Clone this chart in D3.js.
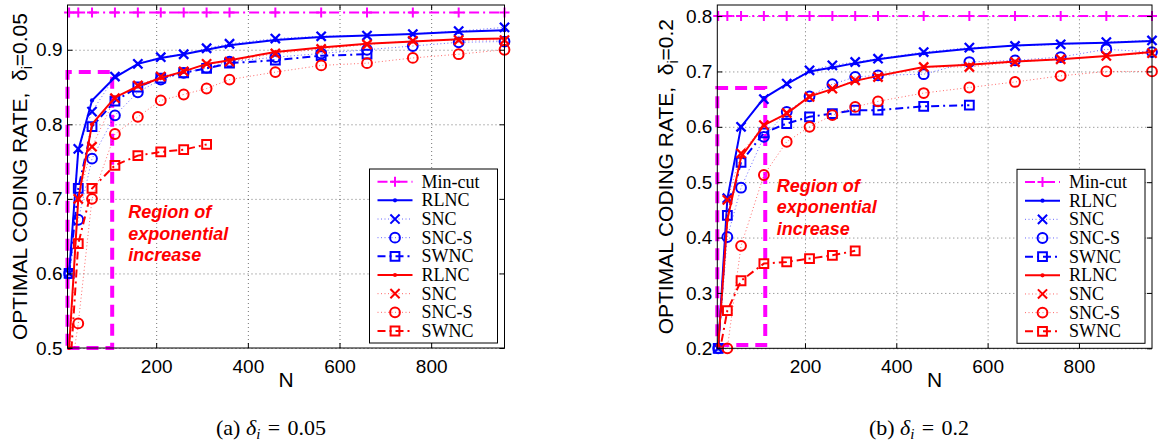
<!DOCTYPE html>
<html>
<head>
<meta charset="utf-8">
<script src="https://cdn.jsdelivr.net/npm/d3@7"></script>
<style>
body { margin: 0; background: #fff; }
svg { display: block; }
.tick text { font-family: "Liberation Sans", Arial, sans-serif; font-size: 19px; fill: #000; }
.grid line { stroke: #000; stroke-opacity: 0.55; stroke-dasharray: 1,3; }
.grid path { display: none; }
.edge path { display: none; }
.edge line { stroke: #000; }
.axislabel { font-family: "Liberation Sans", Arial, sans-serif; font-size: 21px; }
.legend text { font-family: "Liberation Serif", "Times New Roman", serif; font-size: 18px; }
.caption { font-family: "Liberation Serif", "Times New Roman", serif; font-size: 22px; }
.region { font-family: "Liberation Sans", Arial, sans-serif; font-size: 18px; font-weight: bold; font-style: italic; fill: #ff0000; }
</style>
</head>
<body>
<script>

// x values (N) shared by both plots
var nValues = [10, 30, 60, 110, 160, 210, 260, 310, 360, 460, 560, 660, 760, 860, 960];

var legendLabels = ["Min-cut", "RLNC", "SNC", "SNC-S", "SWNC", "RLNC", "SNC", "SNC-S", "SWNC"];

// (a) delta_i = 0.05
var minCutA    = [0.95, 0.95, 0.95, 0.95, 0.95, 0.95, 0.95, 0.95, 0.95, 0.95, 0.95, 0.95, 0.95, 0.95, 0.95];
var rlncBlueA  = [0.600, 0.765, 0.832, 0.863, 0.881, 0.889, 0.894, 0.900, 0.906, 0.913, 0.917, 0.919, 0.921, 0.924, 0.926];
var sncBlueA   = [0.600, 0.767, 0.817, 0.864, 0.881, 0.890, 0.894, 0.902, 0.908, 0.915, 0.918, 0.919, 0.921, 0.925, 0.930];
var sncsBlueA  = [0.600, 0.672, 0.754, 0.812, 0.843, 0.860, 0.869, 0.876, 0.884, 0.890, 0.895, 0.900, 0.905, 0.910, 0.911];
var swncBlueA  = [0.600, 0.714, 0.797, 0.831, 0.850, 0.862, 0.869, 0.875, 0.882, 0.886, 0.892, 0.894];
var rlncRedA   = [0.500, 0.700, 0.800, 0.836, 0.851, 0.862, 0.871, 0.881, 0.886, 0.897, 0.903, 0.908, 0.911, 0.914, 0.915];
var sncRedA    = [0.480, 0.700, 0.770, 0.835, 0.852, 0.864, 0.871, 0.881, 0.884, 0.895, 0.901, 0.907, 0.912, 0.913, 0.913];
var sncsRedA   = [0.450, 0.533, 0.700, 0.787, 0.810, 0.832, 0.840, 0.848, 0.860, 0.870, 0.879, 0.882, 0.889, 0.894, 0.900];
var swncRedA   = [0.450, 0.640, 0.714, 0.745, 0.758, 0.763, 0.766, 0.773];
var regionA    = { nMax: 104, low: 0.5, high: 0.87 };

// (b) delta_i = 0.2
var minCutB    = [0.8, 0.8, 0.8, 0.8, 0.8, 0.8, 0.8, 0.8, 0.8, 0.8, 0.8, 0.8, 0.8, 0.8, 0.8];
var rlncBlueB  = [0.200, 0.470, 0.600, 0.652, 0.677, 0.700, 0.707, 0.715, 0.722, 0.733, 0.741, 0.747, 0.750, 0.752, 0.755];
var sncBlueB   = [0.200, 0.471, 0.600, 0.650, 0.678, 0.702, 0.711, 0.717, 0.723, 0.735, 0.743, 0.746, 0.749, 0.753, 0.756];
var sncsBlueB  = [0.200, 0.401, 0.490, 0.582, 0.627, 0.655, 0.677, 0.690, 0.693, 0.695, 0.717, 0.720, 0.726, 0.740, 0.735];
var swncBlueB  = [0.200, 0.440, 0.536, 0.589, 0.606, 0.618, 0.624, 0.630, 0.630, 0.637, 0.639];
var rlncRedB   = [0.205, 0.432, 0.545, 0.603, 0.624, 0.655, 0.668, 0.683, 0.692, 0.708, 0.712, 0.718, 0.722, 0.728, 0.735];
var sncRedB    = [0.190, 0.468, 0.552, 0.603, 0.625, 0.654, 0.669, 0.684, 0.690, 0.708, 0.708, 0.717, 0.722, 0.728, 0.733];
var sncsRedB   = [0.180, 0.200, 0.385, 0.513, 0.573, 0.600, 0.621, 0.636, 0.646, 0.661, 0.671, 0.681, 0.692, 0.700, 0.700];
var swncRedB   = [0.180, 0.268, 0.322, 0.353, 0.356, 0.362, 0.368, 0.376];
var regionB    = { nMax: 113, low: 0.206, high: 0.67 };

var xTicks = [200, 400, 600, 800];
var yTicksA = [0.5, 0.6, 0.7, 0.8, 0.9];
var yTicksB = [0.2, 0.3, 0.4, 0.5, 0.6, 0.7, 0.8];

var BLUE = "#0000ff", RED = "#ff0000", MAGENTA = "#ff00ff";

// line styles, matlab-ish
var styles = {
  mincut: { dash: "10,4,2,4", width: 2, marker: "plus", opacity: 1 },
  rlnc:   { dash: null, width: 2, marker: "dot", opacity: 1 },
  snc:    { dash: "1,2.5", width: 1, marker: "cross", opacity: 0.6 },
  sncs:   { dash: "1,2.5", width: 1, marker: "circle", opacity: 0.6 },
  swnc:   { dash: "8,4,2,4", width: 2, marker: "square", opacity: 1 }
};

var markerPath = function(type) {
  var s;
  if (type == "plus") { s = 5; return "M" + (-s) + ",0H" + s + "M0," + (-s) + "V" + s; }
  if (type == "cross") { s = 4.6; return "M" + (-s) + "," + (-s) + "L" + s + "," + s + "M" + (-s) + "," + s + "L" + s + "," + (-s); }
  if (type == "square") { s = 4.4; return "M" + (-s) + "," + (-s) + "H" + s + "V" + s + "H" + (-s) + "Z"; }
  if (type == "circle") { s = 4.9; return "M" + s + ",0A" + s + "," + s + " 0 1,1 " + (-s) + ",0A" + s + "," + s + " 0 1,1 " + s + ",0"; }
  s = 2.1; return "M" + s + ",0A" + s + "," + s + " 0 1,1 " + (-s) + ",0A" + s + "," + s + " 0 1,1 " + s + ",0";
};

var svg = d3.select("body").append("svg")
  .attr("width", 1158)
  .attr("height", 444);

var drawPanel = function(p, idx) {
  var x = d3.scaleLinear().domain(p.xDomain).range([p.left, p.right]);
  var y = d3.scaleLinear().domain(p.yDomain).range([p.bottom, p.top]);
  var w = p.right - p.left, h = p.bottom - p.top;

  var g = svg.append("g");

  g.append("clipPath").attr("id", "clip" + idx)
    .append("rect").attr("x", p.left).attr("y", p.top).attr("width", w).attr("height", h);

  // grid
  g.append("g").attr("class", "grid")
    .attr("transform", "translate(0," + p.bottom + ")")
    .call(d3.axisBottom(x).tickValues(xTicks).tickSize(-h).tickFormat(""));
  g.append("g").attr("class", "grid")
    .attr("transform", "translate(" + p.left + ",0)")
    .call(d3.axisLeft(y).tickValues(p.yTicks).tickSize(-w).tickFormat(""));

  // region of exponential increase
  var r = p.region;
  g.append("path")
    .attr("d", "M" + x(p.xDomain[0]) + "," + y(r.low) + "H" + x(r.nMax) + "V" + y(r.high) + "H" + x(p.xDomain[0]) + "Z")
    .attr("fill", "none")
    .attr("stroke", MAGENTA)
    .attr("stroke-width", 4)
    .attr("stroke-dasharray", "12,7");

  var line = d3.line()
    .x(function(d) { return x(d.n); })
    .y(function(d) { return y(d.v); });

  p.series.forEach(function(s) {
    var st = styles[s.style];
    var pts = s.values.map(function(v, i) { return { n: nValues[i], v: v }; });
    g.append("path")
      .attr("clip-path", "url(#clip" + idx + ")")
      .attr("d", line(pts))
      .attr("fill", "none")
      .attr("stroke", s.color)
      .attr("stroke-width", st.width)
      .attr("stroke-opacity", st.opacity)
      .attr("stroke-dasharray", st.dash);
    g.append("g").selectAll("path")
      .data(pts.filter(function(d) { return d.v >= p.yDomain[0] - 0.001 && d.v <= p.yDomain[1]; }))
      .enter().append("path")
      .attr("transform", function(d) { return "translate(" + x(d.n) + "," + y(d.v) + ")"; })
      .attr("d", markerPath(st.marker))
      .attr("fill", st.marker == "dot" ? s.color : "none")
      .attr("stroke", s.color)
      .attr("stroke-width", st.marker == "dot" ? 0 : (st.marker == "cross" ? 2.3 : 2));
  });

  // axes with inward ticks on all sides
  g.append("g").attr("class", "edge")
    .attr("transform", "translate(0," + p.bottom + ")")
    .call(d3.axisBottom(x).tickValues(xTicks).tickSizeInner(-5).tickSizeOuter(0).tickPadding(6))
    .selectAll("text").attr("dy", "1em");
  g.append("g").attr("class", "edge")
    .attr("transform", "translate(" + p.left + ",0)")
    .call(d3.axisLeft(y).tickValues(p.yTicks).tickSizeInner(-5).tickSizeOuter(0).tickPadding(5).tickFormat(d3.format(".1f")));
  g.append("g").attr("class", "edge")
    .attr("transform", "translate(0," + p.top + ")")
    .call(d3.axisTop(x).tickValues(xTicks).tickSizeInner(-5).tickSizeOuter(0).tickFormat(""));
  g.append("g").attr("class", "edge")
    .attr("transform", "translate(" + p.right + ",0)")
    .call(d3.axisRight(y).tickValues(p.yTicks).tickSizeInner(-5).tickSizeOuter(0).tickFormat(""));

  g.append("rect")
    .attr("x", p.left).attr("y", p.top).attr("width", w).attr("height", h)
    .attr("fill", "none").attr("stroke", "#000").attr("stroke-width", 1);

  // region text
  var rt = g.append("text").attr("class", "region")
    .attr("x", x(p.regionText.n)).attr("y", y(p.regionText.v));
  ["Region of", "exponential", "increase"].forEach(function(t, i) {
    rt.append("tspan").attr("x", x(p.regionText.n)).attr("dy", i == 0 ? 0 : 21.5).text(t);
  });

  // axis labels
  g.append("text").attr("class", "axislabel")
    .attr("x", (p.left + p.right) / 2).attr("y", 387)
    .attr("text-anchor", "middle")
    .text("N");

  var yl = g.append("text").attr("class", "axislabel")
    .attr("transform", "translate(" + p.yLabelX + "," + ((p.top + p.bottom) / 2) + ") rotate(-90)")
    .attr("text-anchor", "middle");
  yl.append("tspan").text("OPTIMAL CODING RATE,\u00a0\u00a0\u03b4");
  yl.append("tspan").attr("dy", 5).style("font-size", "14px").text("i");
  yl.append("tspan").attr("dy", -5).text("=" + p.delta);

  // legend
  var lw = 128, lh = 174;
  var lx = p.right - 7 - lw, ly = p.bottom - 5 - lh;
  var legend = g.append("g").attr("class", "legend");
  legend.append("rect")
    .attr("x", lx).attr("y", ly).attr("width", lw).attr("height", lh)
    .attr("fill", "#fff").attr("stroke", "#000").attr("stroke-width", 1);
  var items = legend.selectAll(".item")
    .data(p.series)
    .enter().append("g")
    .attr("class", "item")
    .attr("transform", function(d, i) { return "translate(" + lx + "," + (ly + 12.7 + i * 18.66) + ")"; });
  items.append("line")
    .attr("x1", 8).attr("x2", 43).attr("y1", 0).attr("y2", 0)
    .attr("stroke", function(d) { return d.color; })
    .attr("stroke-width", function(d) { return styles[d.style].width; })
    .attr("stroke-opacity", function(d) { return styles[d.style].opacity; })
    .attr("stroke-dasharray", function(d) { return styles[d.style].dash; });
  items.append("path")
    .attr("transform", "translate(25.5,0)")
    .attr("d", function(d) { return markerPath(styles[d.style].marker); })
    .attr("fill", function(d) { return styles[d.style].marker == "dot" ? d.color : "none"; })
    .attr("stroke", function(d) { return d.color; })
    .attr("stroke-width", function(d) { return styles[d.style].marker == "dot" ? 0 : 2; });
  items.append("text")
    .attr("x", 52).attr("y", 0).attr("dy", "0.33em")
    .text(function(d, i) { return legendLabels[i]; });

  // caption
  var cap = svg.append("text").attr("class", "caption")
    .attr("x", p.captionX).attr("y", 435)
    .attr("text-anchor", "middle");
  cap.append("tspan").text(p.caption + " ");
  cap.append("tspan").style("font-style", "italic").text("\u03b4");
  cap.append("tspan").attr("dy", 4).style("font-style", "italic").style("font-size", "15px").text("i");
  cap.append("tspan").attr("dy", -4).text("\u2004=\u2004" + p.delta);
};

var makeSeries = function(mc, rb, sb, ssb, wb, rr, sr, ssr, wr) {
  return [
    { values: mc,  color: MAGENTA, style: "mincut" },
    { values: rb,  color: BLUE, style: "rlnc" },
    { values: sb,  color: BLUE, style: "snc" },
    { values: ssb, color: BLUE, style: "sncs" },
    { values: wb,  color: BLUE, style: "swnc" },
    { values: rr,  color: RED, style: "rlnc" },
    { values: sr,  color: RED, style: "snc" },
    { values: ssr, color: RED, style: "sncs" },
    { values: wr,  color: RED, style: "swnc" }
  ];
};

drawPanel({
  left: 67.5, right: 504.5, top: 5, bottom: 348,
  xDomain: [6.5, 960], yDomain: [0.5, 0.96], yTicks: yTicksA,
  series: makeSeries(minCutA, rlncBlueA, sncBlueA, sncsBlueA, swncBlueA, rlncRedA, sncRedA, sncsRedA, swncRedA),
  region: regionA, regionText: { n: 139, v: 0.674 },
  delta: "0.05", yLabelX: 27, caption: "(a)", captionX: 271
}, 0);

drawPanel({
  left: 717.3, right: 1152, top: 5, bottom: 348.3,
  xDomain: [8, 960], yDomain: [0.2, 0.82], yTicks: yTicksB,
  series: makeSeries(minCutB, rlncBlueB, sncBlueB, sncsBlueB, swncBlueB, rlncRedB, sncRedB, sncsRedB, swncRedB),
  region: regionB, regionText: { n: 138, v: 0.483 },
  delta: "0.2", yLabelX: 673, caption: "(b)", captionX: 919
}, 1);

</script>
</body>
</html>
